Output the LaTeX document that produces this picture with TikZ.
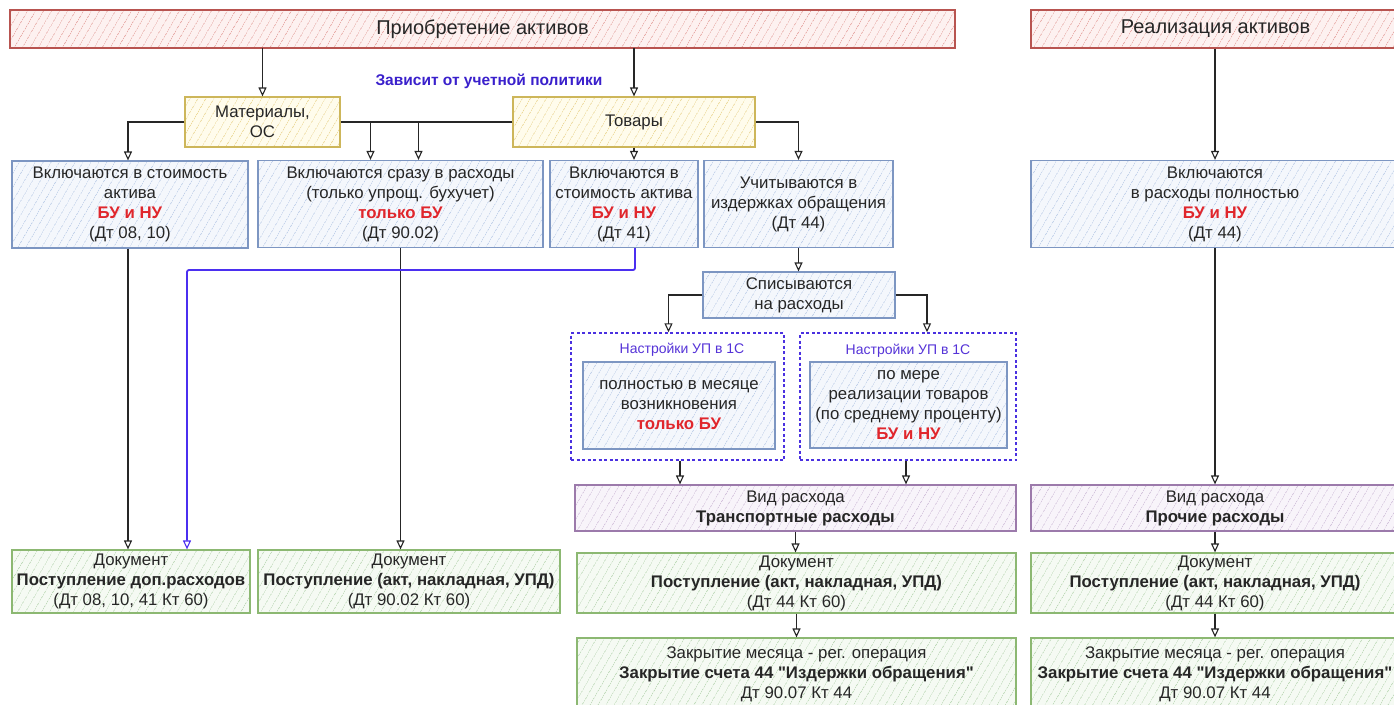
\documentclass[tikz,border=0pt]{standalone}
\usepackage{fontspec}
\setmainfont{Liberation Sans}
\usetikzlibrary{arrows.meta,patterns.meta,calc}
\definecolor{redb}{HTML}{B85450}
\definecolor{redf}{HTML}{FDF1F0}
\definecolor{redh}{HTML}{E8A9A5}
\definecolor{yelb}{HTML}{CDB65A}
\definecolor{yelf}{HTML}{FFFCEC}
\definecolor{yelh}{HTML}{EDD996}
\definecolor{blub}{HTML}{7D96C2}
\definecolor{bluf}{HTML}{F4F7FC}
\definecolor{bluh}{HTML}{C0D0EA}
\definecolor{purb}{HTML}{9C7AAB}
\definecolor{purf}{HTML}{F8F4FA}
\definecolor{purh}{HTML}{D3C1DC}
\definecolor{grnb}{HTML}{8CB872}
\definecolor{grnf}{HTML}{F5FAF3}
\definecolor{grnh}{HTML}{BEDAB8}
\definecolor{redt}{HTML}{E0262C}
\definecolor{polt}{HTML}{3A20CC}
\definecolor{sett}{HTML}{5533D8}
\definecolor{dashc}{HTML}{4A30E0}
\definecolor{bluc}{HTML}{4B2FF0}
\newcommand{\bodyfont}{\fontsize{16.8}{20}\selectfont}
\newcommand{\hdrfont}{\fontsize{20}{24}\selectfont}
\newcommand{\rt}[1]{\textcolor{redt}{\textbf{#1}}}
\newcommand{\qq}{\XeTeXglyph\XeTeXcharglyph"22\relax}
\tikzset{
  base/.style={draw, line width=1.2pt, align=center, inner sep=1pt, font=\bodyfont, text=black!85},
  hatch/.style={pattern={Lines[angle=60,distance=6.5pt,line width=0.7pt]}, pattern color=#1},
  redbox/.style={base, draw=redb, preaction={fill=redf}, hatch=redh, font=\hdrfont},
  yelbox/.style={base, draw=yelb, preaction={fill=yelf}, hatch=yelh},
  blubox/.style={base, draw=blub, preaction={fill=bluf}, hatch=bluh},
  purbox/.style={base, draw=purb, preaction={fill=purf}, hatch=purh},
  grnbox/.style={base, draw=grnb, preaction={fill=grnf}, hatch=grnh},
  dashbox/.style={draw=dashc, line width=1.4pt, dash pattern=on 3pt off 2.5pt},
  arr/.style={draw=black!85, line width=1.4pt, -{Triangle[open,length=9pt,width=8pt,line width=1.1pt]}},
  bluarr/.style={draw=bluc, line width=1.8pt, -{Triangle[open,length=9pt,width=8pt,line width=1.1pt]}},
}
\begin{document}
\begin{tikzpicture}[x=1pt,y=-1pt]
\useasboundingbox (0,0) rectangle (1394,704);
\clip (0,0) rectangle (1394,704);
\fill[white] (0,0) rectangle (1394,704);

% headers
\node[redbox, minimum width=945pt, minimum height=38pt] (hdr1) at (482.5,29) {Приобретение активов};
\node[redbox, minimum width=369pt, minimum height=38pt] (hdr2) at (1215.5,29) {Реализация активов};

\node[font=\fontsize{15.5}{18}\selectfont\bfseries, text=polt] (pol) at (489,81) {Зависит от учетной политики};

% second row
\node[yelbox, minimum width=155pt, minimum height=50pt] (mat) at (262.5,122) {Материалы,\\ОС};
\node[yelbox, minimum width=242pt, minimum height=50pt] (tov) at (634,122) {Товары};

% third row
\node[blubox, minimum width=236pt, minimum height=87pt] (b1) at (130,204.5) {Включаются в стоимость\\актива\\\rt{БУ и НУ}\\(Дт 08, 10)};
\node[blubox, minimum width=285pt, minimum height=87pt] (b2) at (400.5,204) {Включаются сразу в расходы\\(только упрощ. бухучет)\\\rt{только БУ}\\(Дт 90.02)};
\node[blubox, minimum width=148pt, minimum height=87pt] (b3) at (624,204) {Включаются в\\стоимость актива\\\rt{БУ и НУ}\\(Дт 41)};
\node[blubox, minimum width=189pt, minimum height=87pt] (b4) at (798.5,204) {Учитываются в\\издержках обращения\\(Дт 44)};
\node[blubox, minimum width=368pt, minimum height=87pt] (bR) at (1215,204) {Включаются\\в расходы полностью\\\rt{БУ и НУ}\\(Дт 44)};

% spisyvayutsya
\node[blubox, minimum width=192pt, minimum height=46pt] (spis) at (799,295) {Списываются\\на расходы};

% dashed containers
\node[dashbox, minimum width=213pt, minimum height=127pt] (c1) at (677.5,396.5) {};
\node[dashbox, minimum width=216pt, minimum height=127pt] (c2) at (908,396.5) {};
\node[font=\fontsize{14}{16}\selectfont, text=sett] (t1) at (682,350) {Настройки УП в 1С};
\node[font=\fontsize{14}{16}\selectfont, text=sett] (t2) at (908,351) {Настройки УП в 1С};
\node[blubox, minimum width=192pt, minimum height=87pt] (in1) at (679,405.5) {полностью в месяце\\возникновения\\\rt{только БУ}};
\node[blubox, minimum width=197pt, minimum height=86pt] (in2) at (908.5,405) {по мере\\реализации товаров\\(по среднему проценту)\\\rt{БУ и НУ}};

% vid rashoda
\node[purbox, minimum width=441pt, minimum height=46pt] (vidL) at (795.5,508) {Вид расхода\\\textbf{Транспортные расходы}};
\node[purbox, minimum width=368pt, minimum height=46pt] (vidR) at (1215,508) {Вид расхода\\\textbf{Прочие расходы}};

% documents
\node[grnbox, minimum width=238pt, minimum height=63pt] (doc1) at (131,581.5) {Документ\\\textbf{Поступление доп.расходов}\\(Дт 08, 10, 41 Кт 60)};
\node[grnbox, minimum width=302pt, minimum height=63pt] (doc2) at (409,581.5) {Документ\\\textbf{Поступление (акт, накладная, УПД)}\\(Дт 90.02 Кт 60)};
\node[grnbox, minimum width=439pt, minimum height=60pt] (doc3) at (796.5,583) {Документ\\\textbf{Поступление (акт, накладная, УПД)}\\(Дт 44 Кт 60)};
\node[grnbox, minimum width=368pt, minimum height=60pt] (doc4) at (1215,583) {Документ\\\textbf{Поступление (акт, накладная, УПД)}\\(Дт 44 Кт 60)};

% closing
\node[grnbox, minimum width=439pt, minimum height=72pt] (zak1) at (796.5,674) {Закрытие месяца - рег. операция\\\textbf{Закрытие счета 44 \qq Издержки обращения\qq}\\Дт 90.07 Кт 44};
\node[grnbox, minimum width=368pt, minimum height=72pt] (zak2) at (1215,674) {Закрытие месяца - рег. операция\\\textbf{Закрытие счета 44 \qq Издержки обращения\qq}\\Дт 90.07 Кт 44};

% connectors
\draw[arr] (hdr1.south -| mat.north) -- (mat.north);
\draw[arr] (hdr1.south -| tov.north) -- (tov.north);
\draw[arr] (hdr2.south -| bR.north) -- (bR.north);

\draw[arr] (mat.west) -| ([xshift=-2pt]b1.north);
\draw[arr] (mat.east) -| ([xshift=18pt]b2.north);
\draw[arr] (tov.west) -| ([xshift=-30pt]b2.north);
\draw[arr] (tov.south) -- (tov.south |- b3.north);
\draw[arr] (tov.east) -| (b4.north);

\draw[arr] ([xshift=-2pt]b1.south) -- ([xshift=-2pt]b1.south |- doc1.north);
\draw[arr] (b2.south) -- (b2.south |- doc2.north);
\coordinate (bl) at (187,270);
\draw[bluarr, rounded corners=2pt] ([xshift=11pt]b3.south) |- (bl) -- (bl |- doc1.north);

\draw[arr] (b4.south) -- (b4.south |- spis.north);
\draw[arr] (spis.west) -| ([xshift=-9pt]c1.north);
\draw[arr] (spis.east) -| ([xshift=19pt]c2.north);
\draw[arr] ([xshift=2.5pt]c1.south) -- ([xshift=2.5pt]c1.south |- vidL.north);
\draw[arr] ([xshift=-2pt]c2.south) -- ([xshift=-2pt]c2.south |- vidL.north);
\draw[arr] (bR.south) -- (vidR.north);

\draw[arr] (vidL.south) -- (vidL.south |- doc3.north);
\draw[arr] (doc3.south) -- (doc3.south |- zak1.north);
\draw[arr] (vidR.south) -- (doc4.north);
\draw[arr] (doc4.south) -- (zak2.north);
\end{tikzpicture}
\end{document}
